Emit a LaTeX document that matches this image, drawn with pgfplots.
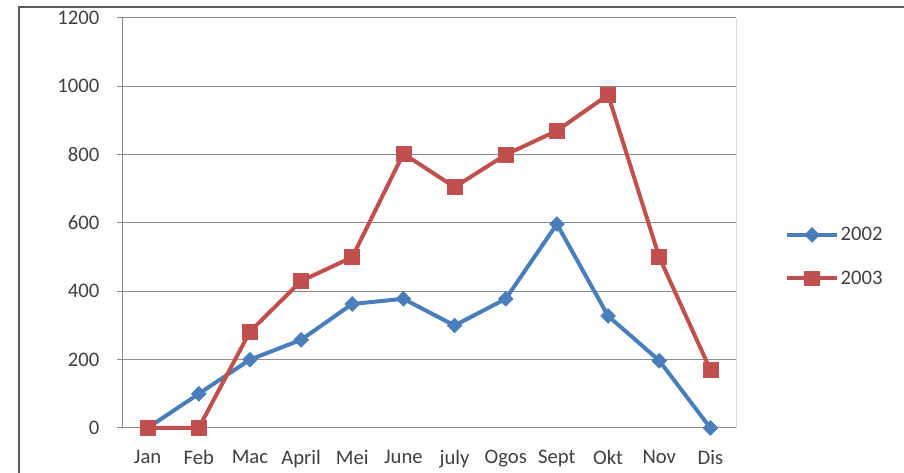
\documentclass[border=0pt]{standalone}
\usepackage{pgfplots}
\pgfplotsset{compat=1.18}
\usepackage{fontspec}
\setmainfont{Carlito}
\definecolor{blueS}{HTML}{4A7EBB}
\definecolor{redS}{HTML}{C0504D}
\definecolor{txt}{HTML}{404040}
\begin{document}
\begin{tikzpicture}
\useasboundingbox (0pt,0pt) rectangle (678pt,354.75pt);
\draw[black!65, line width=1pt] (14.25pt,0pt) -- (14.25pt,349.5pt) -- (678pt,349.5pt);
\begin{axis}[
  at={(91.5pt,33.75pt)}, anchor=south west,
  scale only axis, width=460.5pt, height=307.5pt,
  xmin=-0.5, xmax=11.5, ymin=0, ymax=1200,
  axis lines=left,
  axis line style={-, draw=black!45, line width=0.75pt},
  xtick={0,...,11},
  xticklabels={Jan,Feb,Mac,April,Mei,June,july,Ogos,Sept,Okt,Nov,Dis},
  major x tick style={draw=none},
  extra x ticks={-0.5,0.5,...,11.5},
  extra x tick labels={},
  extra x tick style={major tick length=4pt, tick style={draw=black!45, line width=0.75pt}, grid=none},
  ytick={0,200,...,1200},
  tick align=outside,
  major tick length=4pt,
  ytick style={draw=black!45, line width=0.75pt},
  ymajorgrids,
  grid style={draw=black!45, line width=0.75pt},
  tick label style={font=\fontsize{15.5}{17}\selectfont, text=txt},
  /pgf/number format/assume math mode=true,
  /pgf/number format/1000 sep={},
  yticklabel style={xshift=-9.5pt},
  xticklabel style={yshift=-9pt},
  legend style={at={(1.08,0.418)}, anchor=west, draw=none, fill=none,
    font=\fontsize{15.5}{17}\selectfont, text=txt, row sep=17pt,
    legend cell align=left, inner sep=0pt,
    nodes={inner xsep=1.5pt}},
  legend image code/.code={\draw[mark repeat=2,mark phase=2,#1] plot coordinates {(0cm,0cm) (0.65cm,0cm) (1.3cm,0cm)};},
  clip=false,
]
\addplot[blueS, line width=3pt, mark=square*, mark size=3.9pt, mark options={rotate=45, line width=0.5pt, fill=blueS}]
  coordinates {(0,0) (1,100) (2,200) (3,258) (4,363) (5,378) (6,300) (7,378) (8,597) (9,328) (10,197) (11,0)};
\addlegendentry{2002}
\addplot[redS, line width=3pt, mark=square*, mark size=5.6pt, mark options={line width=0.5pt, fill=redS}]
  coordinates {(0,0) (1,0) (2,282) (3,430) (4,500) (5,803) (6,705) (7,800) (8,870) (9,975) (10,500) (11,170)};
\addlegendentry{2003}
\draw[black!15, line width=0.75pt] (rel axis cs:1,0) -- (rel axis cs:1,1);
\end{axis}
\end{tikzpicture}
\end{document}
